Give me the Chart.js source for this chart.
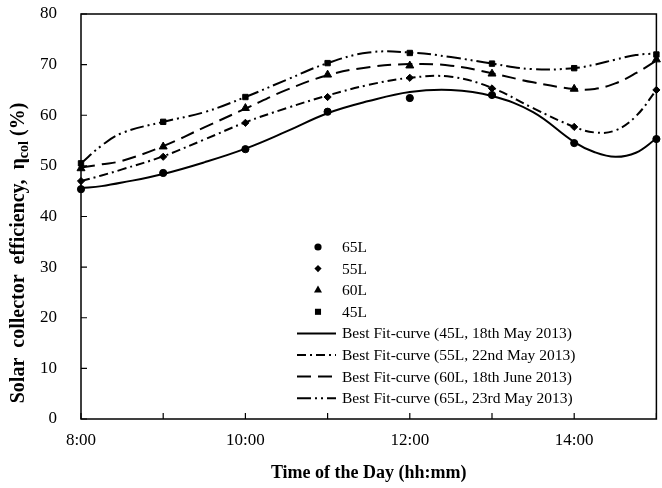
<!DOCTYPE html>
<html>
<head>
<meta charset="utf-8">
<script src="https://cdn.jsdelivr.net/npm/chart.js@4.4.1/dist/chart.umd.min.js"></script>
<style>
  html, body { margin: 0; background: #fff; }
  #wrap { width: 662px; height: 488px; }
</style>
</head>
<body>
<div id="wrap"><canvas id="chart" width="662" height="488"></canvas></div>
<script>
// ============================================================
// DATA
// ============================================================

// measured points, one per hour
const markerHours = [8, 9, 10, 11, 12, 13, 14, 15];
const eff65L = [45.4, 48.6, 53.3, 60.7, 63.4, 64.0, 54.5, 55.3];   // circles
const eff55L = [47.0, 51.8, 58.5, 63.6, 67.4, 65.3, 57.7, 65.0];   // diamonds
const eff60L = [49.5, 53.8, 61.4, 68.0, 69.8, 68.2, 65.2, 71.0];   // triangles
const eff45L = [50.5, 58.7, 63.6, 70.3, 72.3, 70.2, 69.3, 72.0];   // squares

// best fit curves, sampled along the drawn curves
const fitHours = [8, 8.25, 8.5, 9, 9.5, 10, 10.5, 11, 11.5, 12, 12.5, 13, 13.5, 14, 14.25, 14.5, 14.75, 15];
const fit45L = [45.6, 46.0, 46.7, 48.4, 50.7, 53.4, 56.8, 60.4, 62.8, 64.6, 65.0, 63.8, 60.6, 54.7, 52.7, 51.8, 52.6, 55.4];
const fit55L = [47.0, 48.1, 49.3, 51.9, 55.2, 58.6, 61.4, 63.9, 66.0, 67.4, 67.6, 65.4, 61.4, 57.7, 56.6, 57.0, 59.8, 65.0];
const fit60L = [49.7, 50.3, 51.0, 53.9, 57.6, 61.3, 65.0, 67.9, 69.5, 70.1, 69.8, 68.3, 66.5, 65.2, 65.2, 66.3, 68.3, 70.8];
const fit65L = [50.5, 54.0, 56.5, 58.7, 60.6, 63.6, 67.0, 70.3, 72.4, 72.4, 71.5, 70.2, 69.1, 69.3, 70.0, 71.0, 71.9, 72.2];

const markerLabels = ['65L', '55L', '60L', '45L'];
const fitLabels = [
  'Best Fit-curve (45L, 18th May 2013)',
  'Best Fit-curve (55L, 22nd May 2013)',
  'Best Fit-curve (60L, 18th June 2013)',
  'Best Fit-curve (65L, 23rd May 2013)'
];

const yTicks = { min: 0, max: 80, step: 10 };
const xTicks = { min: 8, max: 15, step: 1 };

// ============================================================
// HELPERS
// ============================================================

const SERIF = "'Liberation Serif', 'Times New Roman', serif";
const toPoints = (xs, ys) => xs.map((x, i) => ({ x, y: ys[i] }));

function markerSet(label, values, style, radius) {
  return {
    label,
    data: toPoints(markerHours, values),
    showLine: false,
    pointStyle: style,
    pointRadius: radius,
    pointBackgroundColor: '#000',
    pointBorderColor: '#000',
    pointBorderWidth: 1,
    clip: false,
    order: 0
  };
}

function fitSet(label, values, dash) {
  return {
    label,
    data: toPoints(fitHours, values),
    borderColor: '#000',
    borderWidth: 2,
    borderDash: dash,
    pointRadius: 0,
    tension: 0.4,
    fill: false,
    order: 1
  };
}

// ============================================================
// PLUGINS — frame with inward ticks, legend, y title
// ============================================================

const framePlugin = {
  id: 'frame',
  beforeDatasetsDraw(chart) {
    const { ctx, chartArea: a, scales } = chart;
    ctx.save();
    ctx.strokeStyle = '#000';
    ctx.lineWidth = 1.5;
    ctx.strokeRect(a.left, a.top, a.right - a.left, a.bottom - a.top);
    ctx.lineWidth = 1.2;
    ctx.beginPath();
    scales.x.ticks.forEach(t => {
      const px = scales.x.getPixelForValue(t.value);
      ctx.moveTo(px, a.bottom);
      ctx.lineTo(px, a.bottom - 6);
    });
    scales.y.ticks.forEach(t => {
      const py = scales.y.getPixelForValue(t.value);
      ctx.moveTo(a.left, py);
      ctx.lineTo(a.left + 6, py);
    });
    ctx.stroke();
    ctx.restore();
  }
};

function drawMarker(ctx, style, x, y, r) {
  ctx.beginPath();
  if (style === 'circle') {
    ctx.arc(x, y, r, 0, Math.PI * 2);
  } else if (style === 'rectRot') {
    ctx.moveTo(x, y - r); ctx.lineTo(x + r, y); ctx.lineTo(x, y + r); ctx.lineTo(x - r, y);
  } else if (style === 'triangle') {
    ctx.moveTo(x, y - r); ctx.lineTo(x + r * 0.87, y + r * 0.5); ctx.lineTo(x - r * 0.87, y + r * 0.5);
  } else {
    ctx.rect(x - r * 0.8, y - r * 0.8, r * 1.6, r * 1.6);
  }
  ctx.closePath();
  ctx.fill();
}

const legendPlugin = {
  id: 'innerLegend',
  afterDraw(chart) {
    const { ctx } = chart;
    const sets = chart.data.datasets;
    const rowTop = 247, rowStep = 21.6;
    ctx.save();
    ctx.fillStyle = '#000';
    ctx.strokeStyle = '#000';
    ctx.font = '15.5px ' + SERIF;
    ctx.textBaseline = 'middle';
    ctx.textAlign = 'left';
    sets.forEach((ds, i) => {
      const y = rowTop + i * rowStep;
      if (ds.showLine === false) {
        drawMarker(ctx, ds.pointStyle, 318, y, ds.pointRadius);
      } else {
        ctx.lineWidth = ds.borderWidth;
        ctx.setLineDash(ds.borderDash);
        ctx.beginPath();
        ctx.moveTo(297, y);
        ctx.lineTo(336, y);
        ctx.stroke();
        ctx.setLineDash([]);
      }
      ctx.fillText(ds.label, 342, y + 1);
    });

    // y axis title with subscript
    const main1 = 'Solar  collector  efficiency,  \u03b7';
    const sub = 'col';
    const main2 = ' (%)';
    const big = 'bold 20px ' + SERIF, small = 'bold 14px ' + SERIF;
    ctx.font = big; const w1 = ctx.measureText(main1).width, w3 = ctx.measureText(main2).width;
    ctx.font = small; const w2 = ctx.measureText(sub).width;
    const total = w1 + w2 + w3;
    ctx.translate(19, 253);
    ctx.rotate(-Math.PI / 2);
    let x = -total / 2;
    ctx.font = big; ctx.fillText(main1, x, 0); x += w1;
    ctx.font = small; ctx.fillText(sub, x, 5); x += w2;
    ctx.font = big; ctx.fillText(main2, x, 0);
    ctx.restore();
  }
};

// ============================================================
// CHART
// ============================================================

new Chart(document.getElementById('chart').getContext('2d'), {
  type: 'line',
  data: {
    datasets: [
      markerSet(markerLabels[0], eff65L, 'circle', 3.6),
      markerSet(markerLabels[1], eff55L, 'rectRot', 3.6),
      markerSet(markerLabels[2], eff60L, 'triangle', 4.6),
      markerSet(markerLabels[3], eff45L, 'rect', 3.8),
      fitSet(fitLabels[0], fit45L, []),
      fitSet(fitLabels[1], fit55L, [9, 4, 2, 4]),
      fitSet(fitLabels[2], fit60L, [14, 7]),
      fitSet(fitLabels[3], fit65L, [14, 4, 2, 4, 2, 4])
    ]
  },
  options: {
    responsive: false,
    animation: false,
    devicePixelRatio: 1,
    layout: { padding: { top: 14, right: 2, left: 0, bottom: 0 } },
    plugins: { legend: { display: false }, tooltip: { enabled: false } },
    scales: {
      x: {
        type: 'linear',
        min: xTicks.min,
        max: xTicks.max,
        grid: { display: false, drawTicks: false },
        border: { display: false },
        afterFit: s => { s.height = 69; s.paddingLeft = 0; s.paddingRight = 0; },
        ticks: {
          stepSize: xTicks.step,
          padding: 11,
          color: '#000',
          font: { family: SERIF, size: 17 },
          maxRotation: 0,
          autoSkip: false,
          callback: v => (v % 2 === 0 && v < 15) ? v + ':00' : ''
        },
        title: {
          display: true,
          text: 'Time of the Day (hh:mm)',
          color: '#000',
          font: { family: SERIF, size: 18, weight: 'bold' },
          padding: { top: 2, bottom: 4 }
        }
      },
      y: {
        min: yTicks.min,
        max: yTicks.max,
        grid: { display: false, drawTicks: false },
        border: { display: false },
        afterFit: s => { s.width = 81; s.paddingTop = 0; s.paddingBottom = 0; },
        ticks: {
          stepSize: yTicks.step,
          padding: 24,
          color: '#000',
          font: { family: SERIF, size: 17 }
        }
      }
    }
  },
  plugins: [framePlugin, legendPlugin]
});
</script>
</body>
</html>
